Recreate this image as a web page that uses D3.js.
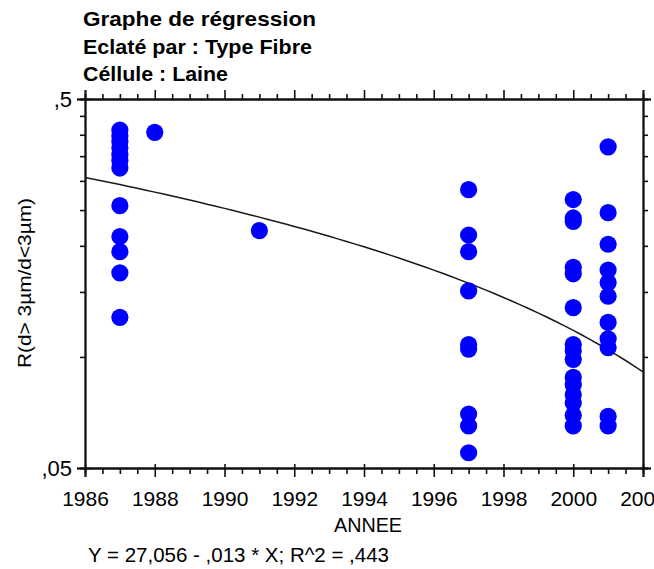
<!DOCTYPE html>
<html>
<head>
<meta charset="utf-8">
<script src="https://cdn.jsdelivr.net/npm/d3@7"></script>
<style>
  body { margin: 0; background: #fff; }
  svg { display: block; }
  text { font-family: "Liberation Sans", Arial, sans-serif; fill: #000; }
</style>
</head>
<body>
<svg id="chart" width="654" height="569"></svg>
<script>
// Header lines
const titleLines = ["Graphe de régression", "Eclaté par : Type Fibre", "Céllule : Laine"];

// Observations: year and ratio R(d>3µm / d<3µm)
const pointYears = [
  1987, 1987, 1987, 1987, 1987, 1987, 1987, 1987, 1987, 1987, 1987, 1987,
  1988,
  1991,
  1997, 1997, 1997, 1997, 1997, 1997, 1997, 1997, 1997,
  2000, 2000, 2000, 2000, 2000, 2000, 2000, 2000, 2000, 2000, 2000, 2000, 2000, 2000, 2000,
  2001, 2001, 2001, 2001, 2001, 2001, 2001, 2001, 2001, 2001, 2001
];
const pointRatios = [
  0.412, 0.397, 0.383, 0.369, 0.353, 0.340, 0.325, 0.257, 0.212, 0.193, 0.169, 0.128,
  0.406,
  0.220,
  0.284, 0.214, 0.193, 0.151, 0.108, 0.105, 0.070, 0.065, 0.055,
  0.267, 0.238, 0.233, 0.175, 0.168, 0.136, 0.108, 0.104, 0.0985, 0.088, 0.084, 0.079, 0.075, 0.0695, 0.065,
  0.371, 0.246, 0.202, 0.172, 0.159, 0.146, 0.124, 0.112, 0.106, 0.069, 0.065
];

// Fitted linear model Y = a + b * X
const regIntercept = 27.056;
const regSlope = -0.013469;
const regEquation = "Y = 27,056 - ,013 * X; R^2 = ,443";

// Axis ticks
const xMajorTicks = [1986, 1988, 1990, 1992, 1994, 1996, 1998, 2000, 2002];
const xMajorLabels = ["1986", "1988", "1990", "1992", "1994", "1996", "1998", "2000", "2002"];
const yMajorTicks = [0.05, 0.5];
const yMajorLabels = [",05", ",5"];
const yMinorTicks = [0.1, 0.15, 0.2, 0.25, 0.3, 0.35, 0.4, 0.45];
const xLabel = "ANNEE";
const yLabel = "R(d> 3µm/d<3µm)";

const svg = d3.select("#chart");
const box = { left: 85, right: 643, top: 99, bottom: 468 };
const font = "\"Liberation Sans\", Arial, sans-serif";

const x = d3.scaleLinear().domain([1986, 2002]).range([box.left, box.right]);
const y = d3.scaleLog().domain([0.05, 0.5]).range([box.bottom, box.top]);

// Title block
const titleWidths = [233, 229, 145];
svg.append("g").selectAll("text").data(titleLines).join("text")
  .attr("x", 83)
  .attr("y", (d, i) => 26 + i * 27.5)
  .attr("font-size", 21)
  .attr("font-weight", "bold")
  .attr("textLength", (d, i) => titleWidths[i])
  .attr("lengthAdjust", "spacingAndGlyphs")
  .text(d => d);

// Regression curve on the log axis
const regYears = d3.range(1986, 2002.001, 0.25);
const line = d3.line()
  .x(d => x(d))
  .y(d => y(regIntercept + regSlope * d));
svg.append("path")
  .datum(regYears)
  .attr("d", line)
  .attr("fill", "none")
  .attr("stroke", "#1a1a1a")
  .attr("stroke-width", 1.5);

// Scatter points
const pts = pointYears.map((yr, i) => ({ year: yr, ratio: pointRatios[i] }));
svg.append("g").selectAll("circle").data(pts).join("circle")
  .attr("cx", d => x(d.year))
  .attr("cy", d => y(d.ratio))
  .attr("r", 8.6)
  .attr("fill", "#0000ff");

// Axes
const minorX = d3.range(1986, 2002.001, 0.5).filter(v => v % 2 !== 0);
const axisStroke = g => g.selectAll("path,line").attr("stroke", "#111").attr("stroke-width", 1.6);

// bottom
const gB = svg.append("g").attr("transform", `translate(0,${box.bottom})`);
gB.call(d3.axisBottom(x).tickValues(minorX).tickSize(6).tickFormat(""));
const gBMajor = gB.append("g").call(d3.axisBottom(x).tickValues(xMajorTicks).tickSize(9)
  .tickFormat((d, i) => xMajorLabels[i]));
gB.call(axisStroke);
gBMajor.selectAll(".tick line").attr("y1", -4);
gBMajor.selectAll("text")
  .attr("font-size", 21).attr("font-family", font).attr("fill", "#000")
  .attr("y", 38).attr("dy", 0);

// top
const gT = svg.append("g").attr("transform", `translate(0,${box.top})`);
gT.call(d3.axisTop(x).tickValues(minorX).tickSize(5).tickFormat(""));
gT.append("g").call(d3.axisTop(x).tickValues(xMajorTicks).tickSize(9).tickFormat(""));
gT.call(axisStroke);

// left
const gL = svg.append("g").attr("transform", `translate(${box.left},0)`);
gL.call(d3.axisLeft(y).tickValues(yMinorTicks).tickSize(5).tickFormat(""));
const gLMajor = gL.append("g").call(d3.axisLeft(y).tickValues(yMajorTicks).tickSize(8)
  .tickFormat((d, i) => yMajorLabels[i]));
gL.call(axisStroke);
gLMajor.selectAll(".tick line").attr("x2", 7).attr("x1", -8);
gLMajor.selectAll("text")
  .attr("font-size", 22).attr("x", -13).attr("fill", "#000").attr("font-family", font);

// right
const gR = svg.append("g").attr("transform", `translate(${box.right},0)`);
gR.call(d3.axisRight(y).tickValues(yMinorTicks).tickSize(5).tickFormat(""));
gR.append("g").call(d3.axisRight(y).tickValues(yMajorTicks).tickSize(8).tickFormat(""));
gR.call(axisStroke);
svg.selectAll(".domain").attr("stroke-width", 1.8);

// Axis titles
svg.append("text")
  .attr("x", 368).attr("y", 532)
  .attr("text-anchor", "middle")
  .attr("font-size", 20)
  .attr("textLength", 68)
  .attr("lengthAdjust", "spacingAndGlyphs")
  .text(xLabel);

svg.append("text")
  .attr("transform", `translate(31,283) rotate(-90)`)
  .attr("text-anchor", "middle")
  .attr("font-size", 19)
  .attr("textLength", 170)
  .attr("lengthAdjust", "spacingAndGlyphs")
  .text(yLabel);

// Regression equation
svg.append("text")
  .attr("x", 88).attr("y", 562)
  .attr("font-size", 20.5)
  .text(regEquation);
</script>
</body>
</html>
